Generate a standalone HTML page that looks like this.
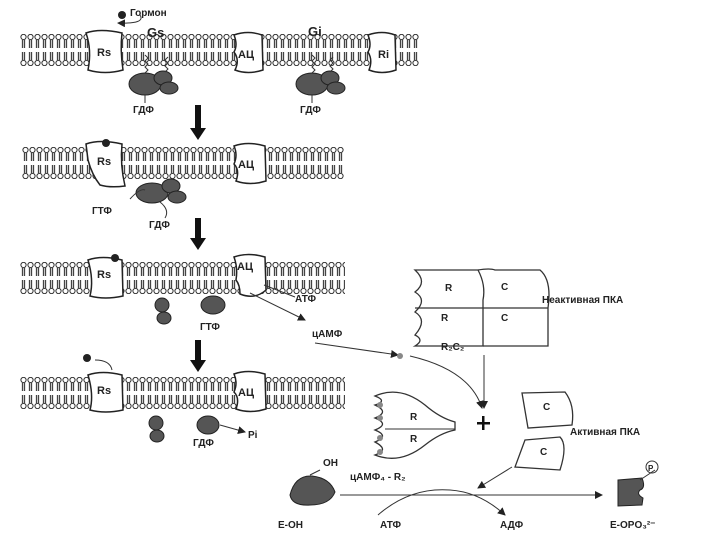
<!DOCTYPE html>
<html><head><meta charset="utf-8"><style>body{margin:0;background:#fff}svg{display:block}text{font-family:"Liberation Sans",sans-serif;font-weight:bold;fill:#222}</style></head><body>
<svg width="720" height="540" viewBox="0 0 720 540">
<defs>
<pattern id="mem" x="0" y="0" width="7" height="32" patternUnits="userSpaceOnUse">
<circle cx="3.5" cy="3" r="2.6" fill="#fff" stroke="#333" stroke-width="1"/>
<circle cx="3.5" cy="29" r="2.6" fill="#fff" stroke="#333" stroke-width="1"/>
<line x1="2.5" y1="6" x2="2.5" y2="14" stroke="#444" stroke-width="1.3"/>
<line x1="4.5" y1="6" x2="4.5" y2="14" stroke="#444" stroke-width="1.3"/>
<line x1="2.5" y1="18" x2="2.5" y2="26" stroke="#444" stroke-width="1.3"/>
<line x1="4.5" y1="18" x2="4.5" y2="26" stroke="#444" stroke-width="1.3"/>
</pattern>
<marker id="ah" markerWidth="8" markerHeight="8" refX="7" refY="4" orient="auto"><path d="M0,0 L8,4 L0,8 z" fill="#222"/></marker>
</defs>
<!-- membranes -->
<g transform="translate(20,34)"><rect x="0" y="0" width="399" height="32" fill="url(#mem)"/></g>
<g transform="translate(22,147)"><rect x="0" y="0" width="322" height="32" fill="url(#mem)"/></g>
<g transform="translate(20,262)"><rect x="0" y="0" width="325" height="32" fill="url(#mem)"/></g>
<g transform="translate(20,377)"><rect x="0" y="0" width="325" height="32" fill="url(#mem)"/></g>
<g fill="#fff" stroke="#222" stroke-width="1.5">
<path d="M86,33 Q100,28 122,33 Q120,50 123,70 Q105,75 88,70 Q92,50 86,33z"/>
<path d="M234,35 Q248,30 262,35 L263,70 Q248,75 235,70 Q240,60 234,52 Q238,45 234,35z"/>
<path d="M368,35 Q382,30 395,35 L396,70 Q382,75 369,70 Q373,60 368,52 Q372,45 368,35z"/>
<path d="M86,144 Q100,139 122,144 Q120,165 125,186 Q110,188 100,185 Q92,175 88,160z"/>
<path d="M234,146 Q248,141 265,146 L266,181 Q250,186 236,181 Q240,170 234,164 Q238,155 234,146z"/>
<path d="M88,260 Q102,255 122,260 L123,296 Q105,300 90,296 Q94,280 88,260z"/>
<path d="M234,257 Q248,252 265,257 L266,290 Q255,300 240,294 Q240,285 236,280 Q238,268 234,257z"/>
<path d="M88,375 Q102,370 122,375 L123,410 Q105,414 90,410 Q94,395 88,375z"/>
<path d="M234,374 Q248,369 265,374 L266,409 Q250,414 236,409 Q240,398 234,392 Q238,383 234,374z"/>
</g>
<g font-size="11"><text x="97" y="56">Rs</text><text x="238" y="58">АЦ</text><text x="378" y="58">Ri</text>
<text x="97" y="165">Rs</text><text x="238" y="168">АЦ</text>
<text x="97" y="278">Rs</text><text x="237" y="270">АЦ</text>
<text x="97" y="394">Rs</text><text x="238" y="396">АЦ</text></g>
<g fill="#555" stroke="#222" stroke-width="1">
<ellipse cx="145" cy="84" rx="16" ry="11"/><ellipse cx="163" cy="78" rx="9" ry="7"/><ellipse cx="169" cy="88" rx="9" ry="6"/>
<ellipse cx="312" cy="84" rx="16" ry="11"/><ellipse cx="330" cy="78" rx="9" ry="7"/><ellipse cx="336" cy="88" rx="9" ry="6"/>
<ellipse cx="152" cy="193" rx="16" ry="10"/><ellipse cx="171" cy="186" rx="9" ry="7"/><ellipse cx="177" cy="197" rx="9" ry="6"/>
<ellipse cx="162" cy="305" rx="7" ry="7"/><ellipse cx="164" cy="318" rx="7" ry="6"/>
<ellipse cx="213" cy="305" rx="12" ry="9"/>
<ellipse cx="156" cy="423" rx="7" ry="7"/><ellipse cx="157" cy="436" rx="7" ry="6"/>
<ellipse cx="208" cy="425" rx="11" ry="9"/>
<path d="M290,495 Q295,475 312,476 Q330,478 335,492 Q330,505 310,505 Q292,506 290,495z"/>
<path d="M618,480 L642,478 Q646,488 640,490 Q636,494 643,498 L642,505 L618,506z"/>
</g>
<g stroke="#333" stroke-width="1" fill="none">
<path d="M145,73 l3,-3 -3,-3 3,-3 -3,-3 3,-3 -3,-3 M165,72 l3,-3 -3,-3 3,-3 -3,-3 3,-3 M312,73 l3,-3 -3,-3 3,-3 -3,-3 3,-3 -3,-3 M330,72 l3,-3 -3,-3 3,-3 -3,-3 3,-3"/>
<path d="M145,95 v8 M312,95 v8"/>
<path d="M118,23 Q112,14 140,15" marker-end="url(#ah)" transform="rotate(180 129 19)"/>
<path d="M130,199 Q140,188 145,190"/><path d="M160,202 Q170,210 165,218"/>
<path d="M264,285 L295,297 M250,293 L305,320" marker-end="url(#ah)"/>
<path d="M315,343 L398,355" marker-end="url(#ah)"/>
<path d="M410,356 Q470,370 482,408" marker-end="url(#ah)"/>
<path d="M484,355 V408" marker-end="url(#ah)"/>
<path d="M512,467 L478,488" marker-end="url(#ah)"/>
<path d="M340,495 H602" marker-end="url(#ah)"/>
<path d="M378,515 Q410,487 450,490 Q480,492 505,515" marker-end="url(#ah)"/>
<path d="M220,425 L245,432" marker-end="url(#ah)"/>
<path d="M95,360 Q110,360 112,370"/>
<path d="M310,475 L320,470 M640,480 L655,470"/>
<path d="M415,270 L478,270 Q486,285 483,300 L483,346 L415,346 Q425,340 415,335 Q428,320 415,312 Q428,300 415,292 Q428,282 415,270z" stroke-width="1.3"/>
<path d="M478,270 Q490,268 495,270 L540,270 Q552,280 548,308 L548,346 L483,346 M483,308 H548 M415,308 H483" stroke-width="1.3"/>
<path d="M375,396 Q400,385 425,405 Q440,418 455,422 L455,430 Q440,433 425,445 Q400,465 375,455 Q390,450 375,442 Q390,436 375,430 Q390,424 375,418 Q390,412 375,405 Q388,401 375,396z" stroke-width="1.3"/>
<path d="M385,429 H455"/>
<path d="M522,393 L565,392 Q575,405 572,425 L528,428z M525,440 L560,437 Q568,445 560,470 L515,467z" stroke-width="1.3"/>
<circle cx="652" cy="467" r="6"/>
</g>
<circle cx="122" cy="15" r="4" fill="#222"/><circle cx="106" cy="143" r="4" fill="#222"/><circle cx="115" cy="258" r="4" fill="#222"/>
<circle cx="87" cy="358" r="4" fill="#222"/><circle cx="400" cy="356" r="3" fill="#888"/>
<g fill="#888"><circle cx="380" cy="405" r="3"/><circle cx="380" cy="418" r="3"/><circle cx="380" cy="438" r="3"/><circle cx="380" cy="452" r="3"/></g>
<g fill="#111"><rect x="195" y="105" width="6" height="25"/><path d="M190,128 h16 l-8,12z"/>
<rect x="195" y="218" width="6" height="22"/><path d="M190,238 h16 l-8,12z"/>
<rect x="195" y="340" width="6" height="22"/><path d="M190,360 h16 l-8,12z"/>
<rect x="477" y="422" width="13" height="2.5"/><rect x="482" y="416" width="2.5" height="14"/></g>
<g font-size="10">
<text x="130" y="16" font-weight="normal">Гормон</text>
<text x="147" y="37" font-size="13" font-weight="normal">Gs</text><text x="308" y="36" font-size="13" font-weight="normal">Gi</text>
<text x="133" y="113">ГДФ</text><text x="300" y="113">ГДФ</text>
<text x="92" y="214">ГТФ</text><text x="149" y="228">ГДФ</text>
<text x="295" y="302">АТФ</text><text x="200" y="330">ГТФ</text>
<text x="312" y="337">цАМФ</text>
<text x="193" y="446">ГДФ</text><text x="248" y="438">Pi</text>
<text x="441" y="321">R</text><text x="441" y="350" font-weight="normal">R₂C₂</text><text x="501" y="290">C</text><text x="501" y="321">C</text><text x="445" y="291">R</text>
<text x="542" y="303" font-weight="normal">Неактивная ПКА</text>
<text x="410" y="420">R</text><text x="410" y="442">R</text>
<text x="350" y="480" font-weight="normal">цАМФ₄ - R₂</text>
<text x="543" y="410">C</text><text x="540" y="455">C</text>
<text x="570" y="435" font-weight="normal">Активная ПКА</text>
<text x="323" y="466">OH</text>
<text x="278" y="528">E-OH</text><text x="380" y="528">АТФ</text><text x="500" y="528">АДФ</text><text x="610" y="528">E-OPO₃²⁻</text>
<text x="648" y="471" font-size="8">P</text>
</g>
</svg>
</body></html>
